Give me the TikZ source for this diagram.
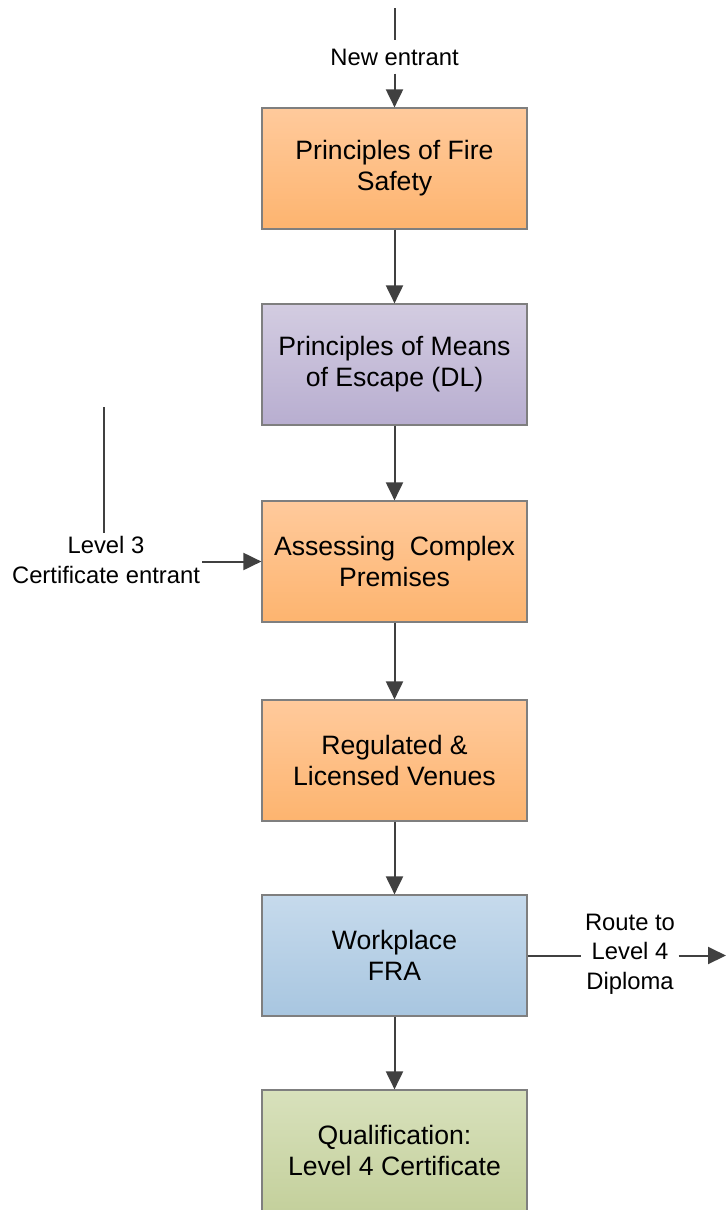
\documentclass[tikz,border=0pt]{standalone}
\usepackage{fontspec}
\setmainfont{Liberation Sans}
\usetikzlibrary{arrows.meta}
\definecolor{orT}{HTML}{FFCA9C}
\definecolor{orB}{HTML}{FDB46F}
\definecolor{puT}{HTML}{D3CCE1}
\definecolor{puB}{HTML}{B8AED0}
\definecolor{blT}{HTML}{C6DAEC}
\definecolor{blB}{HTML}{A8C6E0}
\definecolor{grT}{HTML}{D8E1BC}
\definecolor{grB}{HTML}{C4D09C}
\definecolor{bordercol}{HTML}{7F7F7F}
\definecolor{arrowcol}{HTML}{404040}
\begin{document}
\begin{tikzpicture}[x=1pt,y=-1pt,
  box/.style={draw=bordercol, line width=1.2pt, minimum width=265pt, minimum height=121pt,
    align=center, inner sep=0pt, font=\fontsize{26.6}{31}\selectfont},
  orbox/.style={box, top color=orT, bottom color=orB},
  pubox/.style={box, top color=puT, bottom color=puB},
  blbox/.style={box, top color=blT, bottom color=blB},
  grbox/.style={box, top color=grT, bottom color=grB},
  lab/.style={align=center, font=\fontsize{23.8}{29.5}\selectfont},
  conn/.style={draw=arrowcol, line width=2pt},
  arr/.style={conn, -{Triangle[length=18pt,width=17pt]}}
]
\useasboundingbox (0,0) rectangle (726,1210);

\node[orbox] (b1) at (394.5,168.5) {Principles of Fire\\Safety};
\node[pubox] (b2) at (394.5,364.5) {Principles of Means\\of Escape (DL)};
\node[orbox] (b3) at (394.5,561.5) {Assessing~ Complex\\Premises};
\node[orbox] (b4) at (394.5,760.5) {Regulated \&\\Licensed Venues};
\node[blbox] (b5) at (394.5,955.5) {Workplace\\FRA};
\node[grbox] (b6) at (394.5,1150.5) {Qualification:\\Level 4 Certificate};

% top entrant
\coordinate (topstart) at (394.5,8);
\node[lab, inner xsep=0pt, inner ysep=8pt] (newent) at (394.5,57) {New entrant};
\draw[conn] (topstart) -- (newent.north);
\draw[arr] (newent.south) -- (b1.north);

\draw[arr] (b1.south) -- (b2.north);
\draw[arr] (b2.south) -- (b3.north);
\draw[arr] (b3.south) -- (b4.north);
\draw[arr] (b4.south) -- (b5.north);
\draw[arr] (b5.south) -- (b6.north);

% left entrant
\coordinate (lefttop) at (103.5,407);
\node[lab, inner xsep=2pt, inner ysep=3pt] (l3) at (106,560) {Level 3\\Certificate entrant};
\draw[conn] (lefttop) -- (lefttop |- l3.north);
\draw[arr] (l3.east |- b3.west) -- (b3.west);

% right route
\node[lab, inner xsep=3.5pt, inner ysep=2pt] (route) at (630,954) {Route to\\Level 4\\Diploma};
\coordinate (rightend) at (726,955.5);
\draw[conn] (b5.east) -- (b5.east -| route.west);
\draw[arr] (route.east |- b5.east) -- (rightend);
\end{tikzpicture}
\end{document}
